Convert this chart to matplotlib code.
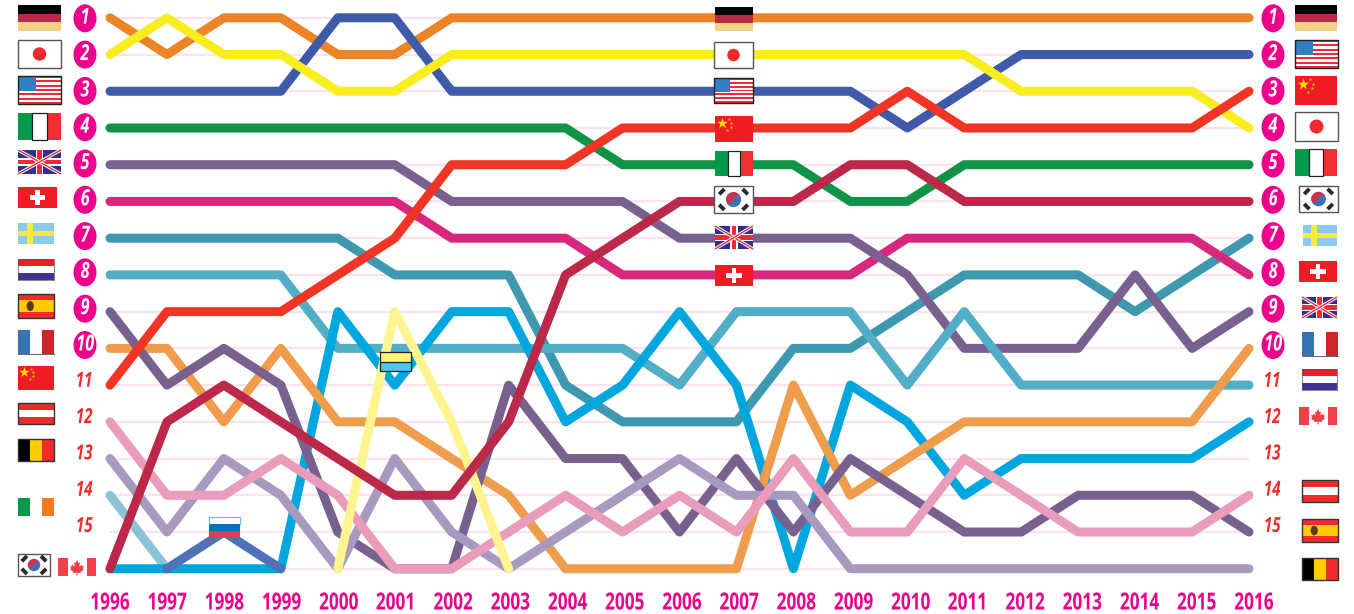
import matplotlib
matplotlib.use("Agg")
import matplotlib.pyplot as plt
import matplotlib.patheffects as pe
from matplotlib.patches import Rectangle, Ellipse, Wedge, Circle, Polygon
from matplotlib.transforms import Affine2D

# Years and rank of each country, 16 means the line sits under the last place
years = list(range(1996, 2017))
germany = [1, 2, 1, 1, 2, 2, 1, 1, 1, 1, 1, 1, 1, 1, 1, 1, 1, 1, 1, 1, 1]
japan = [2, 1, 2, 2, 3, 3, 2, 2, 2, 2, 2, 2, 2, 2, 2, 2, 3, 3, 3, 3, 4]
usa = [3, 3, 3, 3, 1, 1, 3, 3, 3, 3, 3, 3, 3, 3, 4, 3, 2, 2, 2, 2, 2]
italy = [4, 4, 4, 4, 4, 4, 4, 4, 4, 5, 5, 5, 5, 6, 6, 5, 5, 5, 5, 5, 5]
uk = [5, 5, 5, 5, 5, 5, 6, 6, 6, 6, 7, 7, 7, 7, 8, 10, 10, 10, 8, 10, 9]
switzerland = [6, 6, 6, 6, 6, 6, 7, 7, 7, 8, 8, 8, 8, 8, 7, 7, 7, 7, 7, 7, 8]
sweden = [7, 7, 7, 7, 7, 8, 8, 8, 11, 12, 12, 12, 10, 10, 9, 8, 8, 8, 9, 8, 7]
netherlands = [8, 8, 8, 8, 10, 10, 10, 10, 10, 10, 11, 9, 9, 9, 11, 9, 11, 11, 11, 11, 11]
spain = [9, 11, 10, 11, 15, 16, 16, 11, 13, 13, 15, 13, 15, 13, 14, 15, 15, 14, 14, 14, 15]
france = [10, 10, 12, 10, 12, 12, 13, 14, 16, 16, 16, 16, 11, 14, 13, 12, 12, 12, 12, 12, 10]
china = [11, 9, 9, 9, 8, 7, 5, 5, 5, 4, 4, 4, 4, 4, 3, 4, 4, 4, 4, 4, 3]
korea = [16, 12, 11, 12, 13, 14, 14, 12, 8, 7, 6, 6, 6, 5, 5, 6, 6, 6, 6, 6, 6]
austria = [12, 14, 14, 13, 14, 16, 16, 15, 14, 15, 14, 15, 13, 15, 15, 13, 14, 15, 15, 15, 14]
belgium = [13, 15, 13, 14, 16, 13, 15, 16, 15, 14, 13, 14, 14, 16, 16, 16, 16, 16, 16, 16, 16]
canada = [16, 16, 16, 16, 9, 11, 9, 9, 12, 11, 9, 11, 16, 11, 12, 14, 13, 13, 13, 13, 12]
ireland_years = [1996, 1997]
ireland = [14, 16]
russia_years = [1997, 1998, 1999]
russia = [16, 15, 16]
ukraine_years = [2000, 2001, 2002, 2003]
ukraine = [16, 9, 12, 16]

# Flags beside the rank columns and in the middle of the chart
left_flags = ["de", "jp", "us", "it", "gb", "ch", "se", "nl", "es", "fr", "cn", "at", "be", "ie", "kr", "ca", "ru", "ua"]
mid_flags = ["de", "jp", "us", "cn", "it", "kr", "gb", "ch"]
right_flags = ["de", "us", "cn", "jp", "it", "kr", "se", "ch", "gb", "fr", "nl", "ca", "at", "es", "be"]

left_boxes = [(18, 5, 61, 31), (18, 40, 61, 68), (18, 76, 61, 104), (18, 113, 61, 140), (18, 150, 61, 174),
              (18, 187, 57, 208), (18, 223, 54, 244), (18, 259, 54, 280), (18, 294, 54, 318), (18, 330, 54, 354),
              (18, 366, 54, 390), (18, 403, 54, 424), (18, 439, 54, 461), (18, 498, 54, 516), (18, 554, 50, 576),
              (58, 558, 96, 576), (209, 517, 240, 538), (380, 352, 411, 371)]
mid_boxes = [(715, 7, 753, 31), (714, 42, 753, 68), (714, 78, 753, 103), (715, 116, 753, 142),
             (715, 151, 753, 176), (714, 186, 753, 213), (715, 226, 753, 249), (715, 265, 753, 286)]
right_boxes = [(1295, 5, 1337, 31), (1295, 40, 1338, 68), (1295, 76, 1337, 105), (1295, 112, 1338, 141),
               (1295, 149, 1337, 176), (1299, 186, 1338, 212), (1303, 225, 1337, 246), (1299, 261, 1337, 282),
               (1302, 297, 1337, 318), (1302, 332, 1338, 356), (1302, 369, 1337, 390), (1299, 407, 1337, 425),
               (1302, 480, 1338, 502), (1302, 519, 1338, 542), (1302, 558, 1338, 580)]

W, H = 1354, 614
PINK = "#EC008C"
RED = "#EF2B2D"
FONT = "Open Sans"


class Squeeze(pe.AbstractPathEffect):
    # no condensed font installed, so narrow the glyphs around their centre
    def __init__(self, sx):
        super().__init__()
        self.sx = sx

    def draw_path(self, renderer, gc, tpath, affine, rgbFace=None):
        box = tpath.get_extents()
        mid = (box.x0 + box.x1) / 2
        squeeze = Affine2D().translate(-mid, 0).scale(self.sx, 1).translate(mid, 0)
        renderer.draw_path(gc, tpath, squeeze + affine, rgbFace)


narrow = [Squeeze(0.73)]

fig = plt.figure(figsize=(W / 100, H / 100), dpi=100, facecolor="white")

# Main axes fill the figure, limits chosen so years and ranks land at the right pixels
ax = fig.add_axes([0, 0, 1, 1])
x_step, y_step = 56.95, 36.73
ax.set_xlim(1996 - 110 / x_step, 1996 + (W - 110) / x_step)
ax.set_ylim(1 + (H - 17.8) / y_step, 1 - 17.8 / y_step)
ax.axis("off")

for r in range(1, 17):
    ax.plot([1996, 2016], [r, r], color="#FDE1EC", lw=1.5, zorder=1, solid_capstyle="butt")

# Order matters: later lines pass over earlier ones
series = [
    (ireland_years, ireland, "#88C4D6"),
    (years, sweden, "#3E98AF"),
    (years, switzerland, "#D9277E"),
    (years, uk, "#78608F"),
    (years, netherlands, "#52AEC7"),
    (years, italy, "#0F9447"),
    (years, canada, "#00A7DE"),
    (years, france, "#F09C4D"),
    (years, spain, "#78608F"),
    (russia_years, russia, "#5071B8"),
    (years, belgium, "#A89ABF"),
    (years, austria, "#E99CBB"),
    (ukraine_years, ukraine, "#FFF48F"),
    (years, germany, "#EC8426"),
    (years, usa, "#3E5AA8"),
    (years, japan, "#F9ED1F"),
    (years, korea, "#BC2848"),
    (years, china, "#F03524"),
]
for i, (xs, ys, col) in enumerate(series):
    ax.plot(xs, ys, color=col, lw=6.5, zorder=2 + i * 0.01,
            solid_capstyle="round", solid_joinstyle="round")

# Second axes in plain pixels for the flags, badges and year labels
px = fig.add_axes([0, 0, 1, 1], zorder=5)
px.set_xlim(0, W)
px.set_ylim(H, 0)
px.axis("off")
px.patch.set_alpha(0)


def rect(x0, y0, x1, y1, col, **kw):
    p = Rectangle((x0, y0), x1 - x0, y1 - y0, facecolor=col, edgecolor=kw.pop("ec", "none"), lw=kw.pop("lw", 0), **kw)
    px.add_patch(p)
    return p


def bands(box, cols, vertical=False):
    x0, y0, x1, y1 = box
    n = len(cols)
    for i, c in enumerate(cols):
        if vertical:
            rect(x0 + (x1 - x0) * i / n, y0, x0 + (x1 - x0) * (i + 1) / n, y1, c)
        else:
            rect(x0, y0 + (y1 - y0) * i / n, x1, y0 + (y1 - y0) * (i + 1) / n, c)


def border(box, col="#3A3A3A", lw=1.0):
    x0, y0, x1, y1 = box
    rect(x0, y0, x1, y1, "none", ec=col, lw=lw)


def draw_flag(code, box):
    x0, y0, x1, y1 = box
    w, h = x1 - x0, y1 - y0
    cx, cy = (x0 + x1) / 2, (y0 + y1) / 2
    if code == "de":
        bands(box, ["#000000", "#BC2848", "#F1D386"])
    elif code == "jp":
        rect(x0, y0, x1, y1, "white", ec="#555555", lw=1.0)
        px.add_patch(Circle((cx, cy), h * 0.24, color="#EE2A2F", lw=0))
    elif code == "us":
        n = 13
        for i in range(n):
            rect(x0, y0 + h * i / n, x1, y0 + h * (i + 1) / n, "#EE2A3A" if i % 2 == 0 else "white")
        rect(x0, y0, x0 + w * 0.42, y0 + h * 0.54, "#2F7FC1")
        border(box, "#222222")
    elif code == "it":
        bands(box, ["#009A4A", "white", "#EE3030"], vertical=True)
        rect(x0 + w / 3, y0, x0 + 2 * w / 3, y1, "none", ec="#222222", lw=0.9)
    elif code == "gb":
        bg = rect(x0, y0, x1, y1, "#2E3192")
        for (a, b) in [((x0, y0), (x1, y1)), ((x0, y1), (x1, y0))]:
            px.plot([a[0], b[0]], [a[1], b[1]], color="white", lw=2.4, clip_path=bg, solid_capstyle="butt")
            px.plot([a[0], b[0]], [a[1], b[1]], color="#EE2A3A", lw=1.0, clip_path=bg, solid_capstyle="butt")
        rect(cx - 3.6, y0, cx + 3.6, y1, "white")
        rect(x0, cy - 3.6, x1, cy + 3.6, "white")
        rect(cx - 2.2, y0, cx + 2.2, y1, "#EE2A3A")
        rect(x0, cy - 2.2, x1, cy + 2.2, "#EE2A3A")
    elif code == "ch":
        rect(x0, y0, x1, y1, "#EF1C26")
        a, b = h * 0.37, h * 0.11
        rect(cx - a, cy - b, cx + a, cy + b, "white")
        rect(cx - b, cy - a, cx + b, cy + a, "white")
    elif code == "se":
        rect(x0, y0, x1, y1, "#8CCBEF")
        rect(x0 + w * 0.24, y0, x0 + w * 0.42, y1, "#F8EC3A")
        rect(x0, cy - h * 0.11, x1, cy + h * 0.11, "#F8EC3A")
    elif code == "nl":
        bands(box, ["#EF1C26", "white", "#46308F"])
        px.plot([x0, x1, x1, x0, x0], [y0, y0, y1, y1, y0], color="#555555", lw=0.5)
    elif code == "es":
        rect(x0, y0, x1, y1, "#EF2B2D")
        rect(x0, y0 + h * 0.25, x1, y0 + h * 0.75, "#FFCB05")
        px.add_patch(Ellipse((x0 + w * 0.34, cy), w * 0.2, h * 0.42, color="#5A3A1E", lw=0))
        border(box, "#333333")
    elif code == "fr":
        bands(box, ["#3673B5", "white", "#D1232B"], vertical=True)
        px.plot([x0, x1], [y1, y1], color="#666666", lw=0.7)
    elif code == "cn":
        rect(x0, y0, x1, y1, "#EF1C26")
        px.scatter([x0 + w * 0.18], [y0 + h * 0.27], marker="*", s=h * 2.6, color="#FFDD00", lw=0)
        sx = [x0 + w * 0.36, x0 + w * 0.43, x0 + w * 0.41, x0 + w * 0.32]
        sy = [y0 + h * 0.11, y0 + h * 0.26, y0 + h * 0.41, y0 + h * 0.55]
        px.scatter(sx, sy, marker="*", s=8, color="#F7A81B", lw=0)
    elif code == "at":
        bands(box, ["#EF2B2D", "white", "#EF2B2D"])
        border(box, "#333333")
    elif code == "be":
        bands(box, ["#000000", "#FFCB05", "#EF2B2D"], vertical=True)
        border(box, "#333333")
    elif code == "ie":
        bands(box, ["#009A4A", "white", "#F7791F"], vertical=True)
    elif code == "kr":
        rect(x0, y0, x1, y1, "white", ec="#555555", lw=1.0)
        r = h * 0.28
        px.add_patch(Wedge((cx, cy), r, 180, 360, color="#C8344E", lw=0))
        px.add_patch(Wedge((cx, cy), r, 0, 180, color="#3673B5", lw=0))
        px.add_patch(Circle((cx - r / 2, cy), r / 2, color="#C8344E", lw=0))
        px.add_patch(Circle((cx + r / 2, cy), r / 2, color="#3673B5", lw=0))
        for dx, dy in [(-1, -1), (1, -1), (-1, 1), (1, 1)]:
            px.plot([cx + dx * w * 0.30 - 2.6, cx + dx * w * 0.30 + 2.6],
                    [cy + dy * h * 0.29 + dx * dy * 2.6, cy + dy * h * 0.29 - dx * dy * 2.6],
                    color="#2A2A2A", lw=2.8, solid_capstyle="butt")
    elif code == "ca":
        rect(x0, y0, x1, y1, "white")
        rect(x0, y0, x0 + w * 0.25, y1, "#F04048")
        rect(x1 - w * 0.25, y0, x1, y1, "#F04048")
        leaf = [(0, -0.42), (0.09, -0.22), (0.18, -0.27), (0.13, -0.02), (0.26, -0.14), (0.3, -0.04), (0.4, -0.06),
                (0.35, 0.1), (0.4, 0.15), (0.2, 0.3), (0.23, 0.36), (0.03, 0.33), (0.03, 0.5), (-0.03, 0.5),
                (-0.03, 0.33), (-0.23, 0.36), (-0.2, 0.3), (-0.4, 0.15), (-0.35, 0.1), (-0.4, -0.06), (-0.3, -0.04),
                (-0.26, -0.14), (-0.13, -0.02), (-0.18, -0.27), (-0.09, -0.22)]
        px.add_patch(Polygon([(cx + a * h * 0.95, cy + b * h * 0.95) for a, b in leaf], color="#F04048", lw=0))
    elif code == "ru":
        bands((x0, y0, x1, y1), ["white", "#0072BC", "#DF3F4A"])
        px.plot([x0, x0, x1, x1], [y0 + h / 3, y0, y0, y0 + h / 3], color="#5CC4EE", lw=0.9)
    elif code == "ua":
        bands(box, ["#FFF27A", "#4CC8F4"])
        px.plot([x0, x1], [cy, cy], color="#222222", lw=0.9)
        border(box, "#222222", 0.9)


for code, box in zip(left_flags, left_boxes):
    draw_flag(code, box)
for code, box in zip(mid_flags, mid_boxes):
    draw_flag(code, box)
for code, box in zip(right_flags, right_boxes):
    draw_flag(code, box)

# Rank numbers on both sides
for bx in [85, 1273]:
    for r in range(1, 16):
        by = 18.3 + 36.3 * (r - 1)
        if r <= 10:
            px.add_patch(Ellipse((bx, by), 23, 28, facecolor=PINK, edgecolor="none"))
            px.text(bx, by, str(r), color="white", fontsize=16, family=FONT, fontweight="bold",
                    fontstyle="italic", ha="center", va="center", path_effects=narrow)
        else:
            px.text(bx - 1, by, str(r), color=RED, fontsize=15, family=FONT, fontweight="bold",
                    fontstyle="italic", ha="center", va="center", path_effects=narrow)

for y in years:
    px.text(110 + 57.2 * (y - 1996), 603.5, str(y), color=PINK, fontsize=17, family=FONT,
            fontweight="bold", ha="center", va="center", path_effects=narrow)

fig.savefig("out.png", dpi=100)
